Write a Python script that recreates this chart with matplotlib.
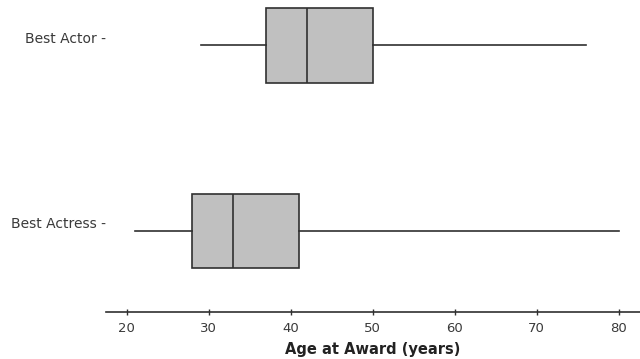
import matplotlib
matplotlib.use("Agg")
import matplotlib.pyplot as plt
from matplotlib.transforms import ScaledTranslation

# five-number summaries
categories = ["Best Actress", "Best Actor"]
whisker_low = [21, 29]
q1 = [28, 37]
median = [33, 42]
q3 = [41, 50]
whisker_high = [80, 76]
xticks = [20, 30, 40, 50, 60, 70, 80]

stats = []
for i, name in enumerate(categories):
    stats.append({
        "label": name + " -",
        "whislo": whisker_low[i],
        "q1": q1[i],
        "med": median[i],
        "q3": q3[i],
        "whishi": whisker_high[i],
        "fliers": [],
    })

fig = plt.figure(figsize=(6.4, 3.59), dpi=100)
ax = fig.add_axes([106 / 640, 1 - 312 / 359, 1 - 106 / 640, 312 / 359])

edge = "#303030"
ax.bxp(stats, positions=[1, 2], widths=0.4, vert=False, patch_artist=True,
       showcaps=False,
       boxprops=dict(facecolor="#c0c0c0", edgecolor=edge, linewidth=1.2),
       medianprops=dict(color=edge, linewidth=1.2),
       whiskerprops=dict(color=edge, linewidth=1.2))

ax.set_xlim(17.45, 82.6)
ax.set_ylim(0.563, 2.245)
ax.set_xticks(xticks)
ax.set_xticklabels([str(t) for t in xticks], fontsize=9.5, color="#3a3a3a")
ax.tick_params(axis="x", direction="inout", length=5, width=1, color=edge, pad=5)
ax.tick_params(axis="y", length=0, labelsize=10, labelcolor="#3a3a3a", pad=0)

# labels in the reference sit a little above the box centres
shift = ScaledTranslation(0, 8 / 100, fig.dpi_scale_trans)
for lab in ax.get_yticklabels():
    lab.set_transform(lab.get_transform() + shift)

for side in ["top", "right", "left"]:
    ax.spines[side].set_visible(False)
ax.spines["bottom"].set_color(edge)
ax.spines["bottom"].set_linewidth(1.2)

ax.set_xlabel("Age at Award (years)", fontsize=10.5, fontweight="bold",
              color="#222222", labelpad=5)

fig.savefig("out.png", dpi=100)
